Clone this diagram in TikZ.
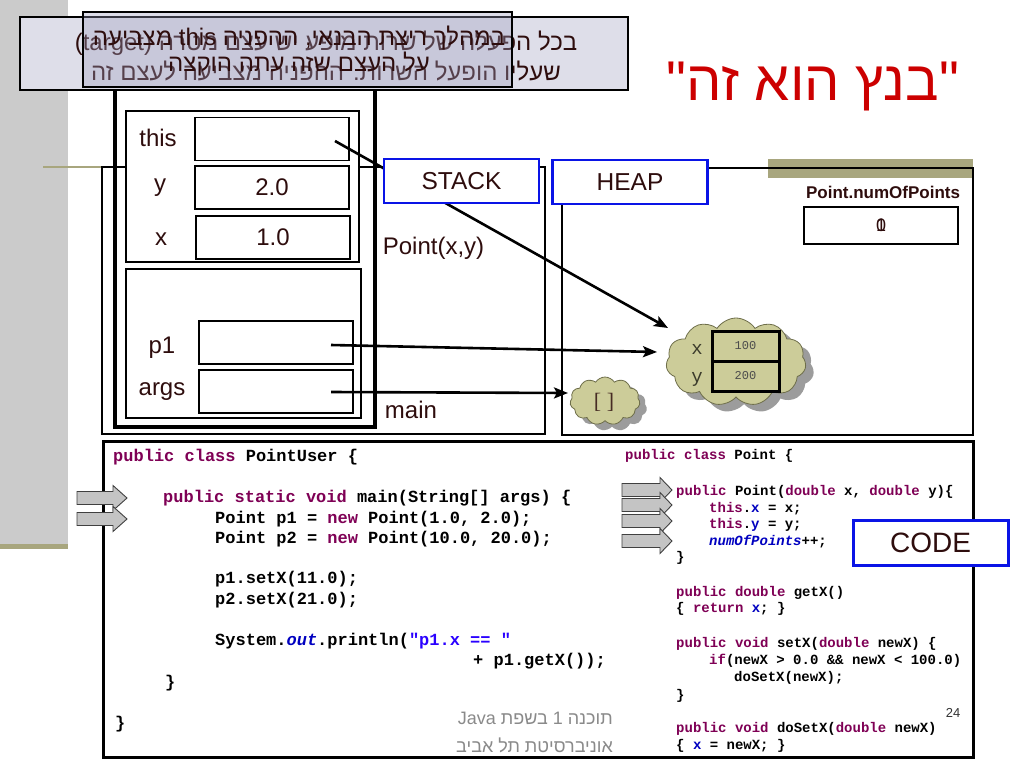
\documentclass[tikz,border=0pt]{standalone}
\usepackage{fontspec}
\setmainfont{Liberation Sans}
\newfontfamily\hebfont[Script=Hebrew]{Liberation Sans}
\newfontfamily\codefont{Liberation Mono}
\newfontfamily\brkfont{Liberation Serif}
\TeXXeTstate=1
\usetikzlibrary{shapes.symbols,arrows.meta}
\definecolor{txt}{HTML}{2E0D0D}
\definecolor{olivec}{HTML}{A8A67E}
\definecolor{stripgrey}{HTML}{CBCBCB}
\definecolor{lav}{HTML}{DEDEE9}
\definecolor{lavdark}{HTML}{A0A0C0}
\definecolor{kw}{HTML}{7F0055}
\definecolor{fld}{HTML}{0000C0}
\definecolor{strc}{HTML}{2A00FF}
\definecolor{cloudfill}{HTML}{CCCC99}
\definecolor{cloudedge}{HTML}{6E6E4A}
\definecolor{shadowgrey}{HTML}{9C9C9C}
\definecolor{titlered}{HTML}{CC0000}
\definecolor{footgrey}{HTML}{8A8A8A}
\definecolor{labelblue}{HTML}{0A14E6}
\definecolor{arrowgrey}{HTML}{C4C4C4}
\definecolor{cloudtxt}{HTML}{3B3B2B}
\newcommand\ckw[1]{\textcolor{kw}{#1}}
\newcommand\cfl[1]{\textcolor{fld}{#1}}
\newcommand\cfli[1]{\textcolor{fld}{\itshape #1}}
\newcommand\cstr[1]{\textcolor{strc}{#1}}
\newcommand\fsz[2]{\fontsize{#1}{#2}\selectfont}
\newcommand\barrow[4]{\draw[blockarr] (#1,#2-6.5) -- (#3,#2-6.5) -- (#3,#2-12.5) -- (#4,#2) -- (#3,#2+12.5) -- (#3,#2+6.5) -- (#1,#2+6.5) -- cycle;}
\tikzset{
  frame/.style={draw=black, line width=1.8pt},
  cell/.style={draw=black, line width=1.8pt, fill=white, inner sep=0pt, minimum width=154pt, minimum height=43pt, font=\fsz{24}{28}, text=txt},
  lbl/.style={inner sep=0pt, font=\fsz{24}{28}, text=txt},
  tag/.style={draw=labelblue, line width=2.4pt, fill=white, inner sep=0pt, minimum width=155pt, minimum height=44pt, font=\fsz{24.5}{28}, text=txt},
  ptr/.style={line width=2.6pt, -{Stealth[length=14pt,width=11pt,inset=3pt]}},
  code/.style={anchor=west, inner sep=0pt, font=\codefont\bfseries\fsz{17}{20}, text height=13.6pt, text depth=3.4pt},
  codes/.style={anchor=west, inner sep=0pt, font=\codefont\bfseries\fsz{14}{16}, text height=11.2pt, text depth=2.8pt},
  blockarr/.style={fill=arrowgrey, draw=black!75, line width=0.9pt},
  note/.style={inner sep=0pt, font=\hebfont\fsz{24}{28}, text=txt},
  blob/.style={cloud, cloud puffs=11, cloud puff arc=115, cloud ignores aspect, inner sep=0pt, draw=cloudedge, line width=0.8pt, fill=cloudfill},
  blobshadow/.style={blob, draw=none, fill=shadowgrey},
  ccell/.style={draw=black, line width=3pt, inner sep=0pt, minimum width=67pt, minimum height=30pt, font=\codefont\fsz{12}{14}, text=black!70},
  cltxt/.style={inner sep=0pt, font=\codefont\fsz{19}{22}, text=cloudtxt}
}
\begin{document}
\begin{tikzpicture}[x=1pt,y=-1pt]
\useasboundingbox (0,0) rectangle (1024,768);
\fill[white] (0,0) rectangle (1024,768);
% side strip
\fill[stripgrey] (0,0) rectangle (68,544);
\fill[olivec] (0,544) rectangle (68,549);
\draw[olivec, line width=1.5pt] (43,167) -- (102,167);
\fill[olivec] (768,159) rectangle (973,178);
% stack and heap areas
\draw[draw=black, line width=2.2pt] (102,167) rectangle (545,434);
\draw[draw=black, line width=2.5pt] (562,168) rectangle (973,435);
% frames
\draw[frame, fill=white] (126,111) rectangle (359,262);
\draw[frame, fill=white] (126,269) rectangle (361,418);
\draw[draw=black, line width=4pt] (115,85) rectangle (375,427);
% cells
\node[cell] (thiscell) at (272,139) {};
\node[cell] (ycell) at (272,187.5) {2.0};
\node[cell] (xcell) at (273,237.5) {1.0};
\node[cell] (p1cell) at (276,342.5) {};
\node[cell] (argscell) at (276,391.5) {};
\node[lbl] (thislbl) at (158,138) {this};
\node[lbl] (ylbl) at (160,188) {y};
\node[lbl] (xlbl) at (161,239) {x};
\node[lbl] (p1lbl) at (162,348) {p1};
\node[lbl] (argslbl) at (162,392) {args};
\node[lbl] (pointframe) at (433.5,248) {Point(x,y)};
\node[lbl] (mainframe) at (411,410) {main};
% clouds
\node[blobshadow, minimum width=140pt, minimum height=88pt] (bigshadow) at (744,369) {};
\node[blob, minimum width=140pt, minimum height=88pt] (bigcloud) at (736,362) {};
\node[ccell] (cx) at (745.5,346) {100};
\node[ccell] (cy) at (745.5,376) {200};
\node[cltxt] (cxl) at (697,349) {x};
\node[cltxt] (cyl) at (697,379) {y};
\node[blobshadow, minimum width=70pt, minimum height=48pt] (smallshadow) at (612,407) {};
\node[blob, minimum width=70pt, minimum height=48pt] (smallcloud) at (605,401) {};
\node[inner sep=0pt, font=\brkfont\fsz{22}{24}, text=txt!80!olivec] (brk) at (604,402) {[ ]};
% pointers
\coordinate (thisptr) at (335,141);
\coordinate (p1ptr) at (331,345);
\coordinate (argsptr) at (331,392);
\coordinate (objin) at (668,328);
\coordinate (objleft) at (657,352);
\coordinate (arrleft) at (568,393);
\draw[ptr] (thisptr) -- (objin);
\draw[ptr] (p1ptr) -- (objleft);
\draw[ptr] (argsptr) -- (arrleft);
% tags
\node[tag] (stacktag) at (461.5,181) {STACK};
\node[tag] (heaptag) at (630,182) {HEAP};
\node[inner sep=0pt, font=\bfseries\fsz{17}{20}, text=txt] (numlbl) at (883,192) {Point.numOfPoints};
\node[draw=black, line width=2.5pt, inner sep=0pt, minimum width=154pt, minimum height=37pt] (numcell) at (881,225.5) {};
\node[inner sep=0pt, font=\fsz{18}{20}, text=txt] (num1) at (881,225.5) {1};
\node[inner sep=0pt, font=\fsz{18}{20}, text=txt] (num0) at (881,225.5) {0};
% top notes
\node[draw=black, line width=2.6pt, fill=lav, minimum width=608pt, minimum height=73pt, inner sep=0pt] (backnote) at (324,53.5) {};
\node[note] (back1) at (326,43) {\beginR בכל הפעלה של שרות מופע יש עצם מטרה \beginL(target)\endL\endR};
\node[note] (back2) at (326,71) {\beginR שעליו הופעל השרות. ההפניה מצביעה לעצם זה\endR};
\node[draw=black, line width=2.6pt, fill=lavdark, fill opacity=0.35, text opacity=1, minimum width=429pt, minimum height=75pt, inner sep=0pt] (frontnote) at (297.5,49.5) {};
\node[note] (front1) at (299,38) {\beginR במהלך ריצת הבנאי, ההפניה \beginL this\endL{} מצביעה\endR};
\node[note] (front2) at (299,64) {\beginR על העצם שזה עתה הוקצה\endR};
% title
\node[inner sep=0pt, font=\hebfont\fsz{56}{62}, text=titlered] (title) at (813,86) {\beginR"בנץ הוא זה"\endR};
% code area
\draw[draw=black, line width=3pt] (103,441) rectangle (973,757);
\node[code] (l1) at (113,456) {\ckw{public class} PointUser \{};
\node[code] (l2) at (163,497) {\ckw{public static void} main(String[] args) \{};
\node[code] (l3) at (215,518) {Point p1 = \ckw{new} Point(1.0, 2.0);};
\node[code] (l4) at (215,538) {Point p2 = \ckw{new} Point(10.0, 20.0);};
\node[code] (l5) at (215,578) {p1.setX(11.0);};
\node[code] (l6) at (215,599) {p2.setX(21.0);};
\node[code] (l7) at (215,640) {System.\cfli{out}.println(\cstr{"p1.x == "}};
\node[code] (l8) at (473,660) {+ p1.getX());};
\node[code] (l9) at (165,682) {\}};
\node[code] (l10) at (115,723) {\}};
\node[codes] (r1) at (625,455) {\ckw{public class} Point \{};
\node[codes] (r2) at (676,491) {\ckw{public} Point(\ckw{double} x, \ckw{double} y)\{};
\node[codes] (r3) at (709,508) {\ckw{this}.\cfl{x} = x;};
\node[codes] (r4) at (709,524) {\ckw{this}.\cfl{y} = y;};
\node[codes] (r5) at (709,541) {\cfli{numOfPoints}++;};
\node[codes] (r6) at (676,557) {\}};
\node[codes] (r7) at (676,592) {\ckw{public double} getX()};
\node[codes] (r8) at (676,608) {\{ \ckw{return} \cfl{x}; \}};
\node[codes] (r9) at (676,643) {\ckw{public void} setX(\ckw{double} newX) \{};
\node[codes] (r10) at (709,660) {\ckw{if}(newX > 0.0 \&\& newX < 100.0)};
\node[codes] (r11) at (734,677) {doSetX(newX);};
\node[codes] (r12) at (676,695) {\}};
\node[codes] (r13) at (676,728) {\ckw{public void} doSetX(\ckw{double} newX)};
\node[codes] (r14) at (676,745) {\{ \cfl{x} = newX; \}};
% execution arrows
\barrow{77}{498}{113}{127}
\barrow{77}{519}{113}{127}
\barrow{622}{490}{660}{672}
\barrow{622}{505}{660}{672}
\barrow{622}{521}{660}{672}
\barrow{622}{541}{660}{672}
\node[draw=labelblue, line width=3pt, fill=white, inner sep=0pt, minimum width=155pt, minimum height=45pt, font=\fsz{28}{32}, text=txt] (codetag) at (930.5,542.5) {CODE};
% footer
\node[anchor=east, inner sep=0pt, font=\hebfont\fsz{18}{20}, text=footgrey] (foot1) at (613,718) {\beginR תוכנה 1 בשפת \beginL Java\endL\endR};
\node[anchor=east, inner sep=0pt, font=\hebfont\fsz{18}{20}, text=footgrey] (foot2) at (613,745) {\beginR אוניברסיטת תל אביב\endR};
\node[inner sep=0pt, font=\fsz{13}{15}, text=black!80] (pagenum) at (953,713) {24};
\end{tikzpicture}
\end{document}
